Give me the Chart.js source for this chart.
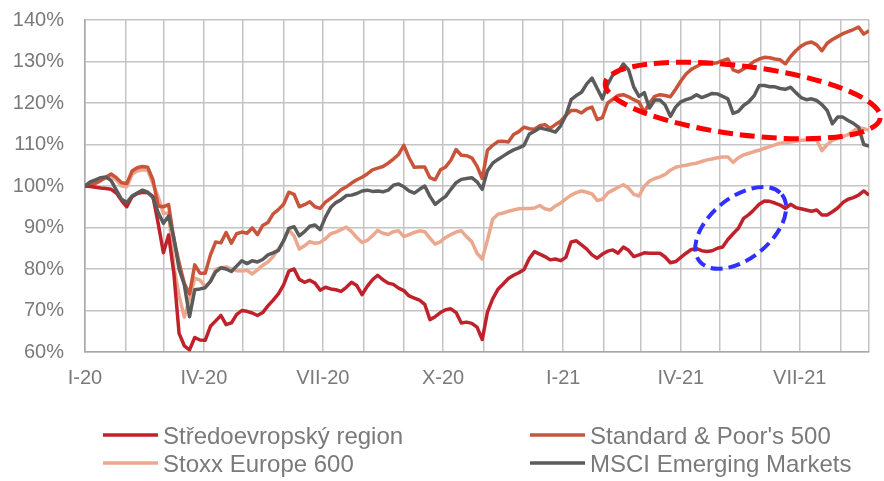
<!DOCTYPE html>
<html>
<head>
<meta charset="utf-8">
<script src="https://cdn.jsdelivr.net/npm/chart.js@4/dist/chart.umd.min.js"></script>
<style>
  html, body { margin: 0; padding: 0; background: #ffffff; }
  canvas { display: block; }
</style>
</head>
<body>
<canvas id="chart" width="884" height="481"></canvas>
<script>
// Days since 1 Jan 2020 (sampled every 4 days up to 23 Aug 2021)
const days = [
  0,4,8,12,16,20,24,28,32,36,40,44,48,52,56,60,64,68,72,76,
  80,84,88,92,96,100,104,108,112,116,120,124,128,132,136,140,144,148,152,156,
  160,164,168,172,176,180,184,188,192,196,200,204,208,212,216,220,224,228,232,236,
  240,244,248,252,256,260,264,268,272,276,280,284,288,292,296,300,304,308,312,316,
  320,324,328,332,336,340,344,348,352,356,360,364,368,372,376,380,384,388,392,396,
  400,404,408,412,416,420,424,428,432,436,440,444,448,452,456,460,464,468,472,476,
  480,484,488,492,496,500,504,508,512,516,520,524,528,532,536,540,544,548,552,556,
  560,564,568,572,576,580,584,588,592,596,600
];

// Month boundaries (gridlines) and quarter labels
const monthStarts = [0,31,60,91,121,152,182,213,244,274,305,335,366,397,425,456,486,517,547,578,600];
const tickDays = [0,91,182,274,366,456,547];
const tickLabels = ['I-20','IV-20','VII-20','X-20','I-21','IV-21','VII-21'];

const seriesNames = ['Středoevropský region', "Standard & Poor's 500", 'Stoxx Europe 600', 'MSCI Emerging Markets'];

// Index values, % of the start level
const ceRegion = [
  100.0,99.9,99.7,99.5,99.4,99.2,98.3,96.5,95.0,97.4,
  98.2,98.5,98.4,97.5,91.0,83.9,88.2,79.0,64.5,61.5,
  60.5,63.5,62.9,62.8,66.2,67.5,68.8,66.6,67.0,69.0,
  70.0,69.8,69.4,68.8,69.5,71.1,72.5,74.0,76.2,79.5,
  80.0,77.5,76.8,77.3,76.6,74.9,75.6,75.2,75.0,74.6,
  75.6,76.8,76.0,73.8,75.8,77.4,78.5,77.4,76.6,76.3,
  75.4,74.8,73.5,73.0,72.5,71.5,67.8,68.5,69.5,70.2,
  70.4,69.5,67.0,67.2,66.9,66.0,63.0,69.6,72.8,75.1,
  76.4,77.7,78.5,79.1,79.9,82.5,84.2,83.6,83.0,82.2,
  82.4,82.0,82.8,86.5,86.8,85.8,84.8,83.4,82.6,83.6,
  84.3,84.6,83.8,85.3,84.5,83.0,83.4,83.9,83.8,83.8,
  83.8,82.9,81.5,81.8,82.8,83.8,84.7,84.9,84.4,84.2,
  84.4,85.0,85.3,87.1,88.5,89.8,92.2,93.1,94.3,95.6,
  96.4,96.3,95.9,95.4,94.6,95.6,94.8,94.5,94.2,93.9,
  94.2,93.0,93.0,93.8,94.7,96.0,96.8,97.2,97.8,98.8,
  97.8
];
const sp500 = [
  100.0,100.3,100.6,101.3,102.1,102.9,102.0,100.8,100.6,103.6,
  104.4,104.7,104.5,101.5,95.2,95.0,95.5,87.2,81.5,76.5,
  74.0,81.0,79.0,79.0,83.4,86.5,86.3,88.8,86.2,88.5,
  88.9,88.6,89.9,88.3,90.5,91.2,93.3,94.3,95.6,98.5,
  98.0,95.0,95.5,96.2,95.0,94.6,96.1,97.0,98.0,99.1,
  99.8,100.7,101.5,102.1,102.9,103.9,104.3,104.7,105.5,106.5,
  107.6,109.8,106.8,104.5,104.6,104.6,102.0,101.5,103.9,104.6,
  106.2,108.8,107.4,107.3,106.8,104.8,101.8,108.6,109.8,110.7,
  110.8,110.6,112.4,113.1,114.2,113.8,113.7,114.5,114.8,113.9,
  114.8,115.6,117.0,118.2,118.2,117.6,118.6,119.0,116.0,116.5,
  120.0,120.9,121.8,122.0,121.5,120.8,120.2,117.8,120.0,121.6,
  122.0,121.8,121.5,123.3,125.3,127.0,128.1,128.8,129.4,129.4,
  129.5,129.7,130.2,130.6,128.0,127.5,128.2,129.0,130.0,130.6,
  131.0,130.9,130.6,130.4,129.4,131.2,132.6,133.7,134.4,134.7,
  134.0,132.6,134.4,135.3,136.0,136.7,137.2,137.7,138.3,136.6,
  137.4
];
const stoxx600 = [
  100.0,100.5,101.0,101.4,101.9,102.4,101.4,100.0,99.8,102.8,
  103.6,103.9,103.8,100.5,97.4,93.4,93.5,80.6,73.6,68.4,
  72.8,77.8,77.3,75.8,77.0,79.9,80.3,80.5,80.0,79.6,
  79.5,79.7,78.8,79.8,80.9,81.7,83.0,84.8,86.8,89.4,
  88.0,84.8,85.6,86.6,86.2,86.4,87.3,88.5,88.9,89.5,
  90.1,89.0,87.6,86.4,86.9,88.0,89.3,88.6,88.3,89.0,
  89.2,87.8,88.3,88.8,89.2,89.0,87.4,86.0,86.6,87.6,
  88.3,88.9,89.2,87.8,86.6,83.8,82.4,87.0,92.0,93.2,
  93.5,93.9,94.2,94.5,94.6,94.6,94.7,95.3,94.5,94.2,
  95.2,95.9,96.9,97.8,98.4,98.8,98.5,98.1,96.5,96.8,
  98.3,99.0,99.7,100.3,99.5,98.0,97.6,99.9,101.2,101.8,
  102.2,102.8,103.8,104.5,104.8,105.0,105.3,105.5,105.9,106.3,
  106.5,106.8,107.0,107.0,105.7,106.8,107.5,107.9,108.3,108.6,
  109.1,109.5,109.9,110.3,110.5,110.6,110.8,111.0,111.1,111.1,
  111.1,108.5,110.0,111.0,111.5,111.9,112.4,113.2,114.1,113.8,
  113.5
];
const msciEM = [
  100.0,101.0,101.5,102.0,102.2,101.3,99.0,96.8,96.0,97.6,
  98.3,99.0,98.5,97.2,93.6,91.0,92.8,87.5,80.0,76.2,
  68.5,75.0,75.2,75.5,77.0,79.3,80.3,80.0,79.4,80.7,
  82.0,81.3,82.0,81.7,82.3,83.4,83.9,84.5,86.8,89.8,
  90.2,88.0,89.0,90.3,90.6,89.5,92.5,94.8,96.0,96.7,
  97.7,97.8,98.2,98.8,99.0,98.7,98.8,98.6,99.0,100.2,
  100.5,99.8,98.8,98.3,99.2,100.0,97.5,95.6,96.6,97.5,
  99.2,100.8,101.6,101.8,102.0,101.0,99.2,103.7,105.5,106.4,
  107.2,108.0,108.7,109.2,109.8,112.5,113.2,114.0,113.7,113.4,
  113.0,114.5,117.0,120.8,121.8,122.6,124.6,126.0,123.5,121.0,
  124.5,126.8,127.5,129.4,128.0,123.8,121.6,122.5,118.8,120.7,
  120.7,119.5,116.8,119.0,120.3,120.8,121.2,122.0,121.3,121.8,
  122.3,122.2,121.6,121.0,117.5,118.0,119.4,120.3,121.7,124.2,
  124.2,123.9,123.9,123.5,123.3,123.8,122.5,121.3,120.8,121.0,
  120.6,119.6,118.2,115.0,116.6,116.6,115.8,115.1,114.2,110.0,
  109.6
];

const seriesValues = [ceRegion, sp500, stoxx600, msciEM];
const seriesColors = ['#c0222c', '#c8553a', '#eba88e', '#5b5b5b'];
const drawOrder = [1, 2, 3, 0];   // lower = drawn on top

const TEXT = '#7a7a7a';
const FONT = '"Liberation Sans", Arial, sans-serif';

// Highlight ellipses around the periods discussed in the text
const highlights = [
  { day: 503.4, value: 120.6, rx: 138.6, ry: 34.3, angle: 7.25, color: '#ff0000', width: 5, dash: [15, 7] },
  { day: 501.8, value: 89.9,  rx: 53,    ry: 30.5, angle: -39,  color: '#3030ff', width: 4, dash: [12, 6] }
];

const highlightPlugin = {
  id: 'highlights',
  afterDatasetsDraw(chart) {
    const { ctx, scales } = chart;
    ctx.save();
    highlights.forEach(h => {
      const cx = scales.x.getPixelForValue(h.day);
      const cy = scales.y.getPixelForValue(h.value);
      ctx.beginPath();
      ctx.ellipse(cx, cy, h.rx, h.ry, h.angle * Math.PI / 180, 0, Math.PI * 2);
      ctx.strokeStyle = h.color;
      ctx.lineWidth = h.width;
      ctx.setLineDash(h.dash);
      ctx.stroke();
    });
    ctx.restore();
  }
};

// Two-column legend under the plot
const legendPlugin = {
  id: 'twoColumnLegend',
  afterDraw(chart) {
    const ctx = chart.ctx;
    const colX = [103, 530];
    const rowY = [435, 463];
    ctx.save();
    ctx.font = '24px ' + FONT;
    ctx.textBaseline = 'alphabetic';
    ctx.textAlign = 'left';
    chart.data.datasets.forEach((ds, i) => {
      const x = colX[i % 2];
      const y = rowY[Math.floor(i / 2)];
      ctx.beginPath();
      ctx.moveTo(x, y);
      ctx.lineTo(x + 55, y);
      ctx.strokeStyle = ds.borderColor;
      ctx.lineWidth = 3.5;
      ctx.lineCap = 'butt';
      ctx.stroke();
      ctx.fillStyle = TEXT;
      ctx.fillText(ds.label, x + 60, y + 8.5);
    });
    ctx.restore();
  }
};

const datasets = seriesNames.map((name, i) => ({
  label: name,
  data: days.map((d, j) => ({ x: d, y: seriesValues[i][j] })),
  borderColor: seriesColors[i],
  backgroundColor: seriesColors[i],
  borderWidth: 3.5,
  pointRadius: 0,
  tension: 0,
  borderJoinStyle: 'round',
  order: drawOrder[i]
}));

new Chart(document.getElementById('chart'), {
  type: 'line',
  data: { datasets },
  plugins: [highlightPlugin, legendPlugin],
  options: {
    responsive: false,
    animation: false,
    layout: { padding: { top: 20, right: 15, bottom: 0, left: 0 } },
    plugins: {
      legend: { display: false },
      tooltip: { enabled: false }
    },
    scales: {
      x: {
        type: 'linear',
        min: 0,
        max: 600,
        afterBuildTicks(scale) {
          scale.ticks = monthStarts.map(v => ({ value: v }));
        },
        afterFit(scale) { scale.height = 129; },
        ticks: {
          autoSkip: false,
          maxRotation: 0,
          padding: 14,
          color: TEXT,
          font: { family: FONT, size: 20 },
          callback(value) {
            const idx = tickDays.indexOf(value);
            return idx >= 0 ? tickLabels[idx] : '';
          }
        },
        grid: { color: '#c4c4c4', lineWidth: 1.5, drawTicks: false },
        border: { display: true, color: '#a8a8a8', width: 1.5 }
      },
      y: {
        min: 60,
        max: 140,
        afterFit(scale) {
          scale.width = 85;
          scale.paddingTop = 0;
          scale.paddingBottom = 0;
        },
        ticks: {
          stepSize: 10,
          padding: 21,
          color: TEXT,
          font: { family: FONT, size: 20 },
          callback: v => v + '%'
        },
        grid: { color: '#c4c4c4', lineWidth: 1.5, drawTicks: false },
        border: { display: true, color: '#a8a8a8', width: 1.5 }
      }
    }
  }
});
</script>
</body>
</html>
